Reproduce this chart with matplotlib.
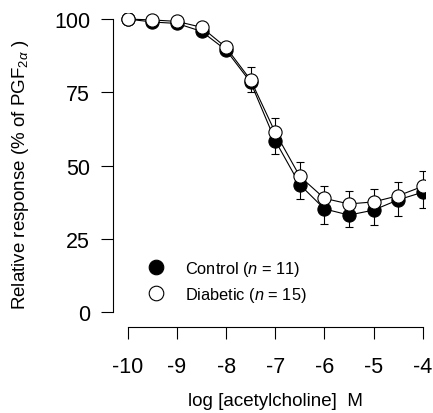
import matplotlib
matplotlib.use("Agg")
import matplotlib.pyplot as plt
from matplotlib.lines import Line2D

plt.rcParams["font.family"] = ["Liberation Sans", "DejaVu Sans"]
plt.rcParams["mathtext.fontset"] = "custom"
plt.rcParams["mathtext.rm"] = "Liberation Sans"
plt.rcParams["mathtext.it"] = "Liberation Sans:italic"

# log [acetylcholine] M
log_ach = [-10, -9.5, -9, -8.5, -8, -7.5, -7, -6.5, -6, -5.5, -5, -4.5, -4]

# relative response, % of PGF2a (mean and SEM)
control = [100, 99.0, 98.5, 95.8, 89.4, 78.4, 58.5, 43.5, 35.2, 33.1, 34.8, 38.3, 40.9]
control_sem = [0.3, 0.5, 0.7, 1.0, 1.2, 3.4, 4.5, 5.0, 5.1, 4.1, 5.1, 5.4, 5.5]
diabetic = [100, 99.7, 99.2, 97.2, 90.3, 79.2, 61.3, 46.3, 38.8, 36.9, 37.6, 39.7, 42.9]
diabetic_sem = [0.3, 0.4, 0.5, 0.8, 1.0, 4.5, 4.9, 5.0, 4.1, 4.5, 4.5, 4.8, 5.3]

fig = plt.figure(figsize=(4.33, 4.14), dpi=100)
ax = fig.add_axes([0.261, 0.2077, 0.721, 0.758])

ms = 9.5
zero = [0] * len(log_ach)

# control: filled circles, error bars pointing down
ax.errorbar(log_ach, control, yerr=[control_sem, zero], fmt="none",
            ecolor="black", elinewidth=0.8, capsize=2.8, capthick=0.8, zorder=1)
ax.plot(log_ach, control, "-o", color="black", lw=0.8, ms=ms,
        mfc="black", mec="black", mew=0.8, zorder=2)

# diabetic: open circles, error bars pointing up
ax.errorbar(log_ach, diabetic, yerr=[zero, diabetic_sem], fmt="none",
            ecolor="black", elinewidth=0.8, capsize=2.8, capthick=0.8, zorder=3)
ax.plot(log_ach, diabetic, "-o", color="black", lw=0.8, ms=ms,
        mfc="white", mec="black", mew=0.8, zorder=4)

ax.set_xlim(-10.3, -3.95)
ax.set_ylim(-5.1, 102)

for s in ["top", "right"]:
    ax.spines[s].set_visible(False)
ax.spines["left"].set_bounds(0, 100)
ax.spines["bottom"].set_bounds(-10, -4)
ax.spines["left"].set_linewidth(0.8)
ax.spines["bottom"].set_linewidth(0.8)

ax.set_xticks(range(-10, -3))
ax.set_xticklabels([str(v) for v in range(-10, -3)])
ax.set_yticks([0, 25, 50, 75, 100])
ax.tick_params(axis="both", direction="out", length=8.5, width=0.8, labelsize=15.5)
ax.tick_params(axis="x", pad=12.5)
ax.tick_params(axis="y", pad=8)

fig.text(275 / 433, 1 - 402 / 414, "log [acetylcholine]  M",
         ha="center", va="center", fontsize=13.5)
fig.text(21 / 433, 1 - 175 / 414, r"Relative response (% of PGF$_{2\alpha}$ )",
         ha="center", va="center", rotation=90, fontsize=13.5)

handles = [
    Line2D([], [], ls="none", marker="o", ms=10.5, mfc="black", mec="black", mew=0.8),
    Line2D([], [], ls="none", marker="o", ms=10.5, mfc="white", mec="black", mew=0.8),
]
ax.legend(handles, [r"Control ($n$ = 11)", r"Diabetic ($n$ = 15)"],
          loc="upper left", bbox_to_anchor=(0.09, 0.237), frameon=False,
          fontsize=11.8, handlelength=1.0, handletextpad=1.3, labelspacing=0.4,
          borderaxespad=0)

fig.savefig("out.png", dpi=100)
